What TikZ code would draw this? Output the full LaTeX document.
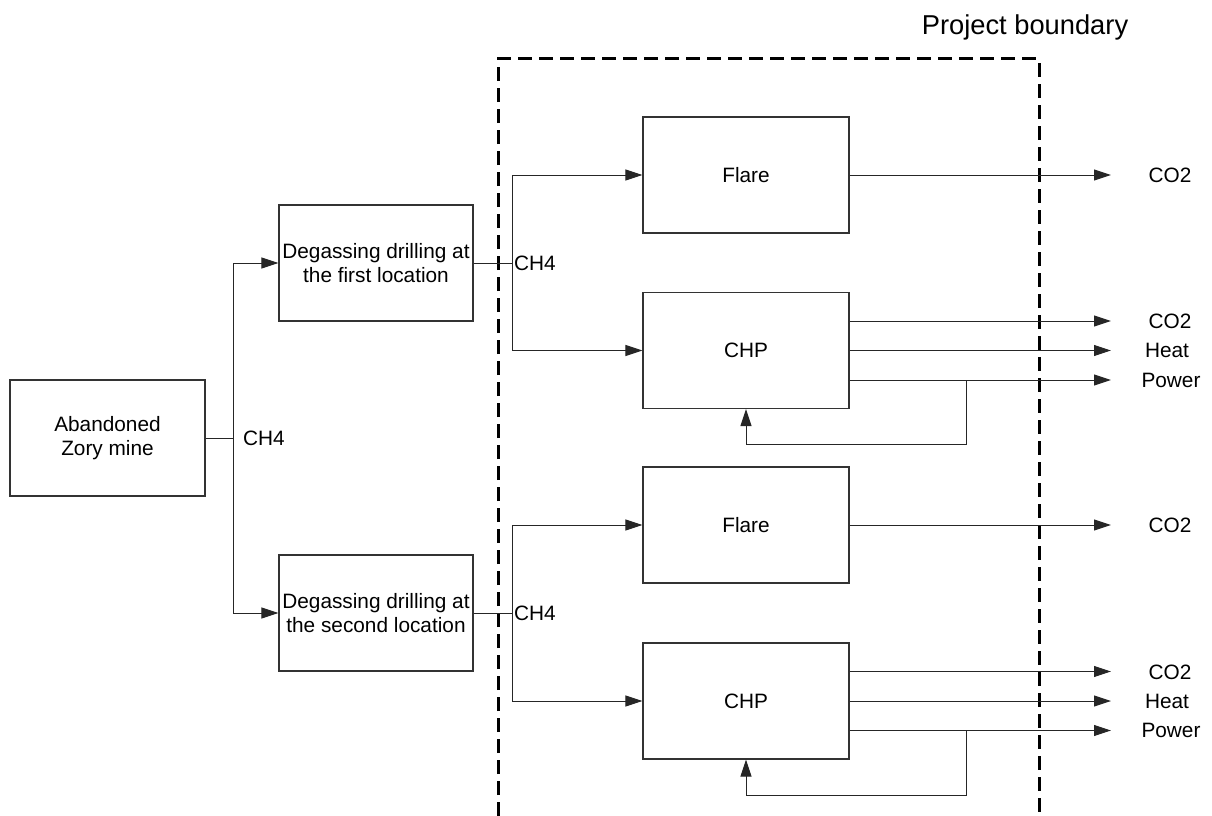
\documentclass[tikz,border=0pt]{standalone}
\usepackage{fontspec}
\setmainfont{Liberation Sans}
\usetikzlibrary{arrows.meta}
\begin{document}
\begin{tikzpicture}[x=1pt,y=-1pt,
  block/.style={draw=black!80, line width=1.2pt, minimum height=116pt,
    align=center, inner sep=0pt, font=\fontsize{20.8}{23.5}\selectfont},
  wideblock/.style={block, minimum width=206pt},
  narrowblock/.style={block, minimum width=194pt},
  flow/.style={draw=black!85, line width=1pt},
  arr/.style={flow, -{Triangle[length=17pt,width=11pt]}},
  lbl/.style={font=\fontsize{20.8}{24}\selectfont, inner sep=0pt},
  boundary/.style={line width=3pt, dash pattern=on 14pt off 7pt}]
\useasboundingbox (0,0) rectangle (1212,816);

% project boundary (open at the bottom)
\draw[boundary] (498,816) -- (498,59) -- (1039,59) -- (1039,816);
\node[lbl, font=\fontsize{27.3}{30}\selectfont] (pb) at (1025,27) {Project boundary};

% source and drilling locations
\node[narrowblock, minimum width=195pt] (mine) at (107.5,438) {Abandoned\\Zory mine};
\node[narrowblock] (deg1) at (376,263) {Degassing drilling at\\the first location};
\node[narrowblock] (deg2) at (376,613) {Degassing drilling at\\the second location};

% utilisation units
\node[wideblock] (flare1) at (746,175) {Flare};
\node[wideblock] (chp1) at (746,350.5) {CHP};
\node[wideblock] (flare2) at (746,525) {Flare};
\node[wideblock] (chp2) at (746,701) {CHP};

% junctions
\coordinate (j0) at (233,438);
\coordinate (j1) at (512,263);
\coordinate (j2) at (512,613);
\coordinate (ox) at (1111,0);

% gas from the mine
\draw[flow] (mine.east) -- (j0);
\draw[arr] (j0) |- (deg1.west);
\draw[arr] (j0) |- (deg2.west);
\node[lbl, anchor=west] (ch40) at (243,438) {CH4};

% first location
\draw[flow] (deg1.east) -- (j1);
\draw[arr] (j1) |- (flare1.west);
\draw[arr] (j1) |- (chp1.west);
\node[lbl, anchor=west] (ch41) at (514,263) {CH4};

% second location
\draw[flow] (deg2.east) -- (j2);
\draw[arr] (j2) |- (flare2.west);
\draw[arr] (j2) |- (chp2.west);
\node[lbl, anchor=west] (ch42) at (514,613) {CH4};

% products of the first location
\draw[arr] (flare1.east) -- (flare1.east -| ox);
\node[lbl] (o1) at (1170,175) {CO2};
\draw[arr] ([yshift=29.5pt]chp1.east) -- ([yshift=29.5pt]chp1.east -| ox);
\draw[arr] (chp1.east) -- (chp1.east -| ox);
\draw[arr] ([yshift=-29.5pt]chp1.east) -- ([yshift=-29.5pt]chp1.east -| ox);
\node[lbl] (o2) at (1170,321) {CO2};
\node[lbl] (o3) at (1167,350.5) {Heat};
\node[lbl] (o4) at (1171,380) {Power};
\coordinate (tap1) at (966,380);
\draw[arr] (tap1) -- ++(0,64) -| (chp1.south);

% products of the second location
\draw[arr] (flare2.east) -- (flare2.east -| ox);
\node[lbl] (o5) at (1170,525) {CO2};
\draw[arr] ([yshift=29.5pt]chp2.east) -- ([yshift=29.5pt]chp2.east -| ox);
\draw[arr] (chp2.east) -- (chp2.east -| ox);
\draw[arr] ([yshift=-29.5pt]chp2.east) -- ([yshift=-29.5pt]chp2.east -| ox);
\node[lbl] (o6) at (1170,672) {CO2};
\node[lbl] (o7) at (1167,701) {Heat};
\node[lbl] (o8) at (1171,730) {Power};
\coordinate (tap2) at (966,730);
\draw[arr] (tap2) -- ++(0,65) -| (chp2.south);
\end{tikzpicture}
\end{document}
